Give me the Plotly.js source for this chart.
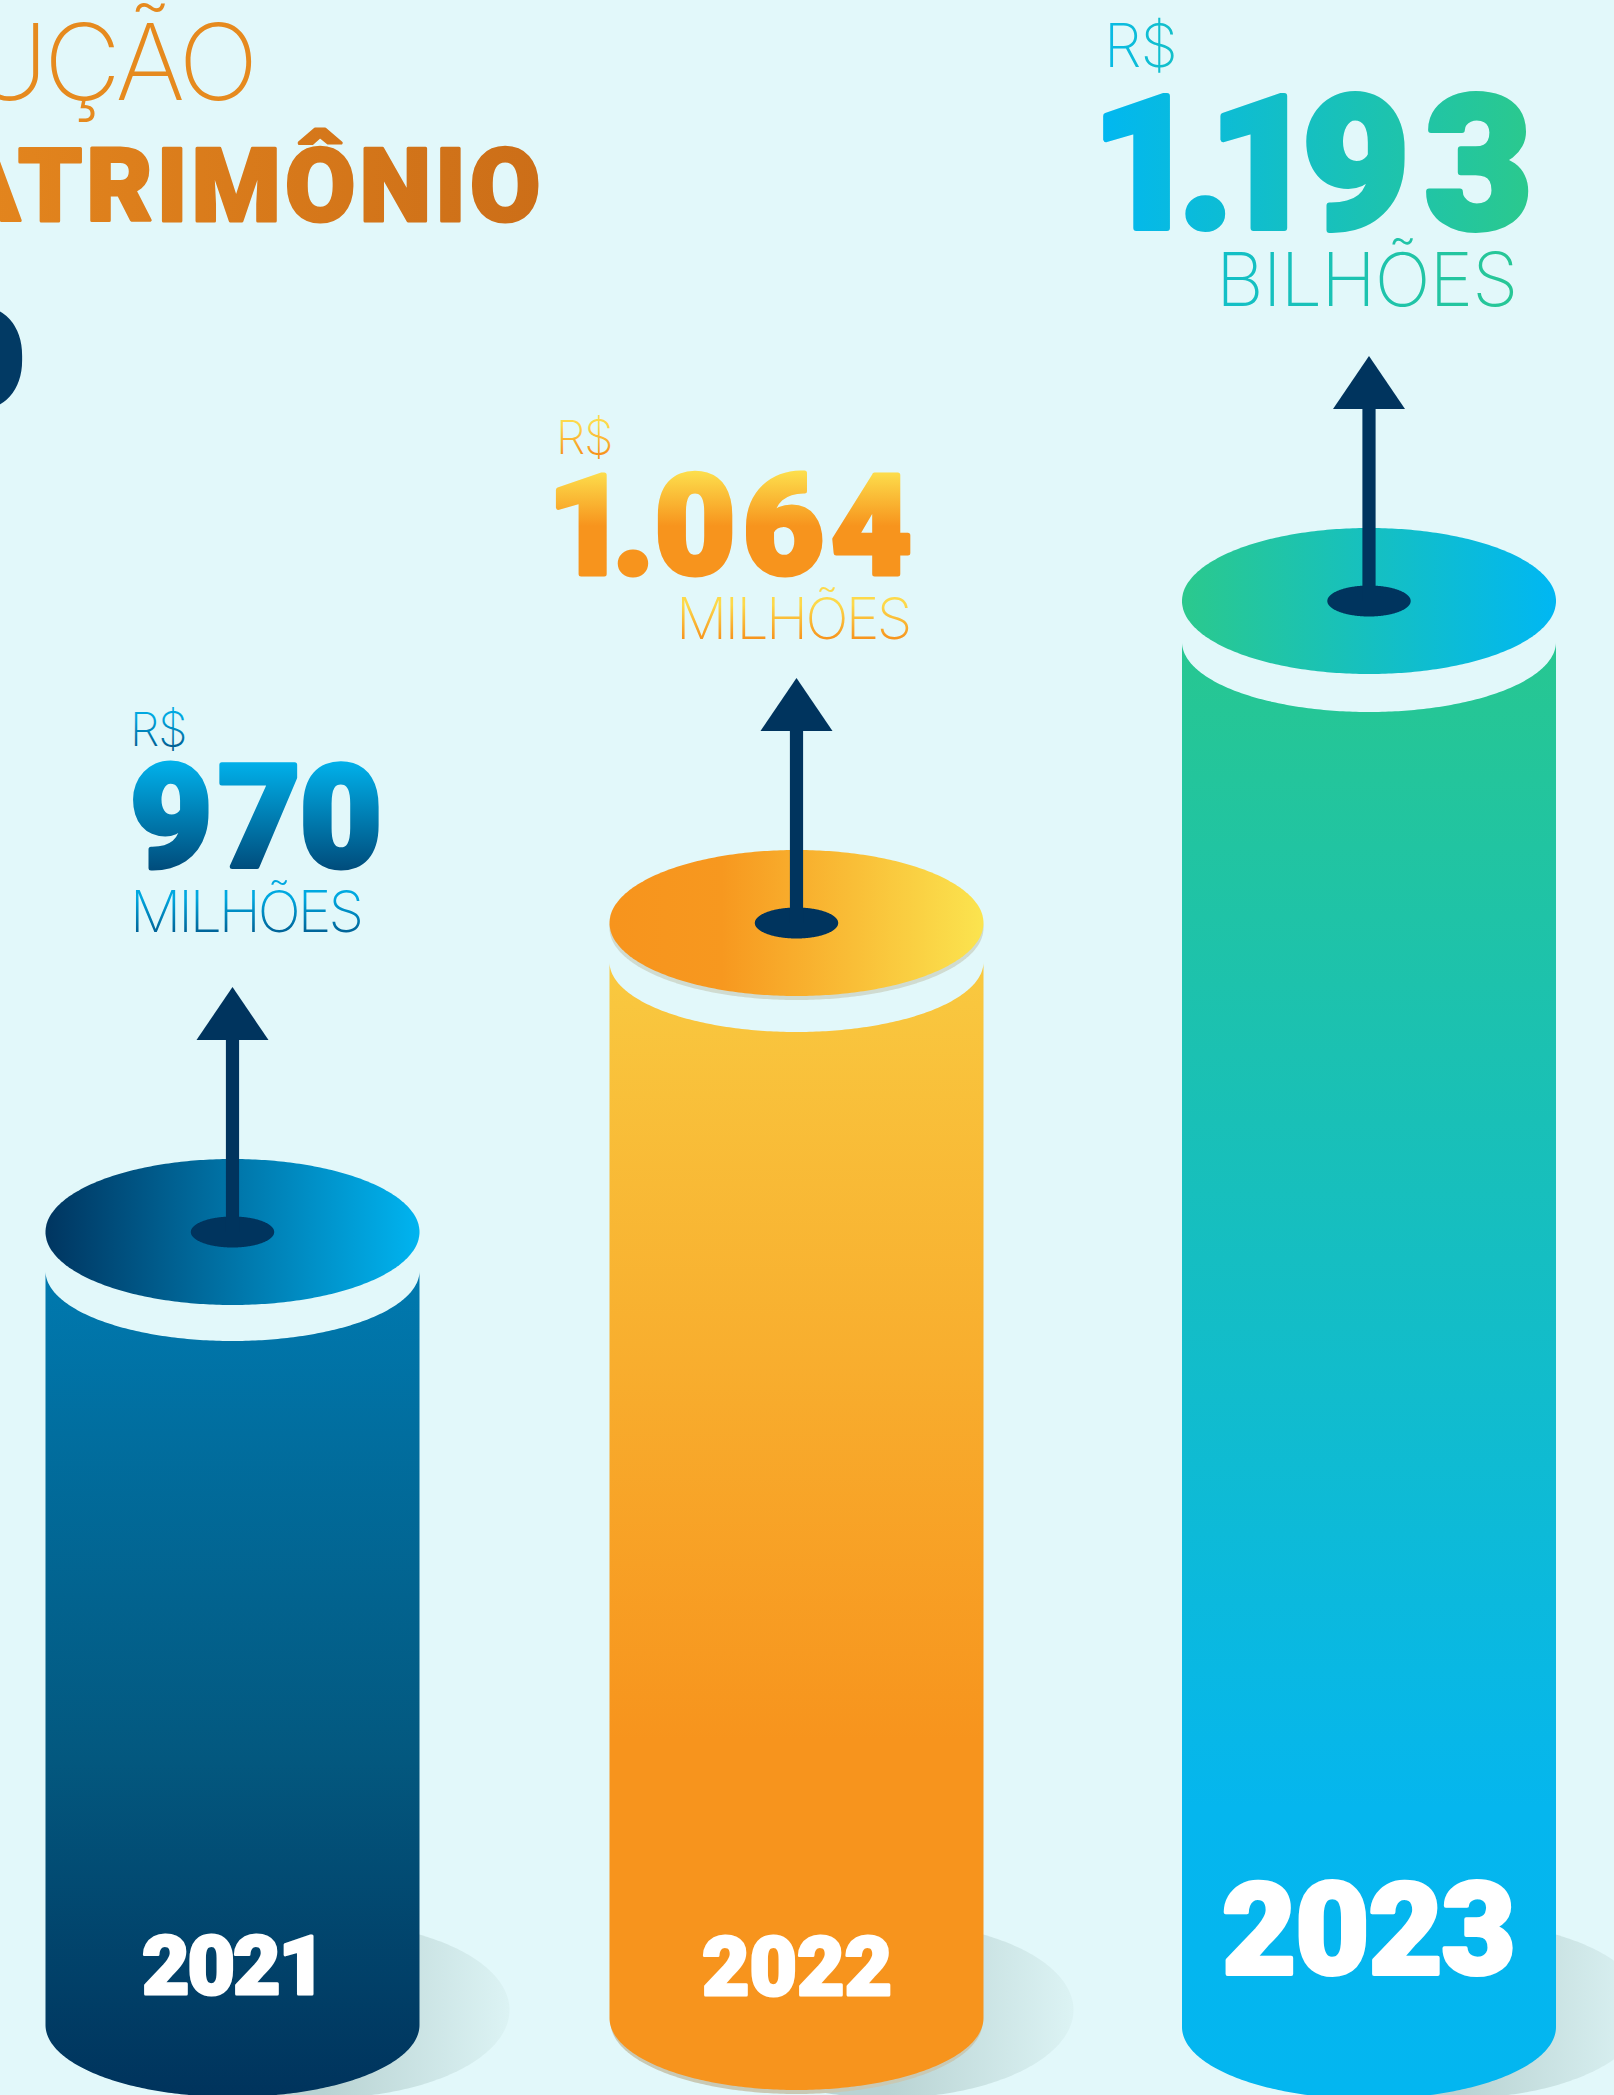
<!DOCTYPE html>
<html>
<head>
<meta charset="utf-8">
<script src="https://cdn.plot.ly/plotly-3.0.1.min.js"></script>
<style>html,body{margin:0;padding:0;background:#e2f8fa;overflow:hidden}#chart{width:1614px;height:2095px}</style>
</head>
<body>
<svg width="0" height="0" style="position:absolute">
  <defs>
    <linearGradient id="tBlue" x1="0" y1="0" x2="0" y2="1"><stop offset="0.15" stop-color="#00b2ec"/><stop offset="0.9" stop-color="#003e6c"/></linearGradient>
    <linearGradient id="tBlueThin" x1="0" y1="0" x2="0" y2="1"><stop offset="0.3" stop-color="#00a8e0"/><stop offset="0.85" stop-color="#005c90"/></linearGradient>
    <linearGradient id="tOrange" x1="0" y1="0" x2="0" y2="1"><stop offset="0.15" stop-color="#fde24f"/><stop offset="0.5" stop-color="#f7941d"/></linearGradient>
    <linearGradient id="tOrangeThin" x1="0" y1="0" x2="0" y2="1"><stop offset="0.3" stop-color="#fdd94a"/><stop offset="0.8" stop-color="#f7941d"/></linearGradient>
    <linearGradient id="tTeal" x1="0" y1="0" x2="1" y2="0"><stop offset="0" stop-color="#00b7f3"/><stop offset="1" stop-color="#2bc98d"/></linearGradient>
    <linearGradient id="tTealThin" x1="0" y1="0" x2="1" y2="0"><stop offset="0" stop-color="#12bfc8"/><stop offset="1" stop-color="#28c795"/></linearGradient>
    <linearGradient id="tRs3" x1="0" y1="0" x2="1" y2="0"><stop offset="0" stop-color="#08bae6"/><stop offset="1" stop-color="#14c0c8"/></linearGradient>
    <linearGradient id="tTitle" x1="0" y1="0" x2="1" y2="0"><stop offset="0" stop-color="#ee9020"/><stop offset="1" stop-color="#cc6e18"/></linearGradient>
  </defs>
</svg>
<div id="chart"></div>
<script>
// ---- data ----
const years = ["2021", "2022", "2023"];
const values = ["970", "1.064", "1.193"];
const units = ["MILHÕES", "MILHÕES", "BILHÕES"];
const currency = "R$";
// drawn column heights (the picture's columns are not to scale with the values)
const columnHeights = [754, 1056, 1385];
const titleLines = ["EVOLUÇÃO", "DO PATRIMÔNIO"];

// ---- drawing constants ----
const W = 1614, H = 2095;
const cxs = [232.5, 796.5, 1369];
const baseY = [2025, 2018, 2027];
const discGap = [39, 39, 41];
const RX = 187, RY = 72, holeRX = 41.7, holeRY = 15.5;
// the y axis runs downward, so colour stop 1 is the top of a column
const bodyGrad = [
  [[0, "#00335c"], [0.41, "#03587f"], [1, "#0079af"]],
  [[0, "#f7941d"], [0.31, "#f7941d"], [1, "#f9c940"]],
  [[0, "#03b6f0"], [0.2, "#05b6ee"], [1, "#27c791"]]
];
const discGrad = [
  [[0, "#003560"], [1, "#00b4f0"]],
  [[0, "#f7941d"], [0.3, "#f7981f"], [1, "#fbe44f"]],
  [[0, "#2bc98d"], [1, "#00b7f3"]]
];
const navy = "#00345e";
const shadowLeft = "#b9d3d3", shadowRight = "#dcf3f4";

function arc(cx, cy, rx, ry, a0, a1, n) {
  const xs = [], ys = [];
  for (let i = 0; i <= n; i++) {
    const a = a0 + (a1 - a0) * i / n;
    xs.push(cx + rx * Math.cos(a)); ys.push(cy + ry * Math.sin(a));
  }
  return [xs, ys];
}
const flatLine = {width: 0, simplify: false};
function ellipseTrace(cx, cy, rx, ry, extra) {
  const [x, y] = arc(cx, cy, rx, ry, 0, 2 * Math.PI, 360);
  return Object.assign({x, y, type: "scatter", mode: "lines", fill: "toself", line: flatLine, hoverinfo: "skip", showlegend: false}, extra);
}
function poly(x, y, color) {
  return {x, y, type: "scatter", mode: "lines", fill: "toself", fillcolor: color, line: flatLine, hoverinfo: "skip", showlegend: false};
}

const traces = [];
years.forEach((yr, i) => {
  const cx = cxs[i], by = baseY[i], topY = by - columnHeights[i];
  const discY = topY - discGap[i];
  // ground shadow
  traces.push(ellipseTrace(cx + 91, 2010, 186, 88, {
    fillgradient: {type: "horizontal", colorscale: [[0, shadowLeft], [0.5, shadowLeft], [1, shadowRight]]}
  }));
  // body with concave top and rounded bottom
  const [tx, ty] = arc(cx, topY, RX, RY - 2, Math.PI, 0, 180);
  const [bx, by2] = arc(cx, by, RX, RY, 0, Math.PI, 180);
  if (i === 1) traces.push(ellipseTrace(cx, by + 4, RX - 1, RY, {fillcolor: "#c9c9b4"}));
  traces.push({
    x: tx.concat(bx), y: ty.concat(by2), type: "scatter", mode: "lines", fill: "toself",
    line: flatLine, hoverinfo: "skip", showlegend: false,
    fillgradient: {type: "vertical", colorscale: bodyGrad[i]}
  });
  if (i === 1) traces.push(ellipseTrace(cx, discY + 5, RX, RY, {fillcolor: "rgba(190,190,165,0.5)"}));
  // top disc
  traces.push(ellipseTrace(cx, discY, RX, RY + 1, {fillgradient: {type: "horizontal", colorscale: discGrad[i]}}));
  // arrow
  traces.push(ellipseTrace(cx, discY, holeRX, holeRY, {fillcolor: navy}));
  const headBase = discY - 192, tip = discY - 245;
  traces.push(poly([cx - 6.6, cx + 6.6, cx + 6.6, cx - 6.6], [discY, discY, headBase, headBase], navy));
  traces.push(poly([cx - 36, cx + 36, cx], [headBase, headBase, tip], navy));
});

const HEAVY = "Roboto", THIN = "Inter";
// spacing: one number, or one number per character; stroke thickens the heavy glyphs
function txt(text, x, y, anchor, size, weight, family, fill, spacing, stroke) {
  const strokeCss = stroke ? `;stroke:${fill};stroke-width:${stroke}px;stroke-linejoin:round` : "";
  let inner;
  if (Array.isArray(spacing)) {
    inner = Array.from(text).map((c, k) => `<span style="letter-spacing:${spacing[k]}px">${c}</span>`).join("");
    inner = `<span style="fill:${fill}${strokeCss}">${inner}</span>`;
  } else {
    inner = `<span style="fill:${fill};letter-spacing:${spacing}px${strokeCss}">${text}</span>`;
  }
  return {
    text: inner, x, y, xref: "x", yref: "y", xanchor: anchor, yanchor: "middle", showarrow: false, borderpad: 0, align: anchor,
    font: {family, size, weight, color: "#000"}
  };
}
const annotations = [
  txt(titleLines[0], 255, 61, "right", 106, 200, THIN, "#e68a1e", -4),
  txt(titleLines[1], 545, 186, "right", 102, 900, HEAVY, "url(#tTitle)", 4, 3),
  txt("O", 28, 360, "right", 142, 900, HEAVY, "#023a64", 0),
  // 2021
  txt(currency, 129, 728, "left", 47, 200, THIN, "url(#tBlueThin)", -1),
  txt(values[0], 129, 818, "left", 142, 900, HEAVY, "url(#tBlue)", [6, -1, 0], 5),
  txt(units[0], 129, 911, "left", 57, 200, THIN, "url(#tBlueThin)", -3),
  // 2022
  txt(currency, 555, 436, "left", 47, 200, THIN, "url(#tOrangeThin)", -1),
  txt(values[1], 546, 526, "left", 140, 900, HEAVY, "url(#tOrange)", [-16, 0, 7, 7, 0], 5),
  txt(units[1], 911, 618, "right", 57, 200, THIN, "url(#tOrangeThin)", -2.6),
  // 2023
  txt(currency, 1103, 45, "left", 60, 200, THIN, "url(#tRs3)", -1),
  txt(values[2], 1090, 164, "left", 186, 900, HEAVY, "url(#tTeal)", [-21, -26, -14, 15, 0], 6),
  txt(units[2], 1518, 279, "right", 74, 200, THIN, "url(#tTealThin)", -1),
  // year labels
  txt(years[0], cxs[0], 1966, "center", 82, 900, HEAVY, "#ffffff", -2, 3),
  txt(years[1], cxs[1], 1967, "center", 82, 900, HEAVY, "#ffffff", 0, 3),
  txt(years[2], 1368, 1930, "center", 128, 900, HEAVY, "#ffffff", -1, 4)
];

const hidden = {visible: false, fixedrange: true, zeroline: false, showgrid: false};
const layout = {
  width: W, height: H, margin: {l: 0, r: 0, t: 0, b: 0, pad: 0},
  paper_bgcolor: "#e2f8fa", plot_bgcolor: "#e2f8fa", showlegend: false, hovermode: false,
  xaxis: Object.assign({}, hidden, {range: [0, W]}),
  yaxis: Object.assign({}, hidden, {range: [H, 0]}),
  annotations
};
Plotly.newPlot("chart", traces, layout, {displayModeBar: false, staticPlot: true});
</script>
</body>
</html>
